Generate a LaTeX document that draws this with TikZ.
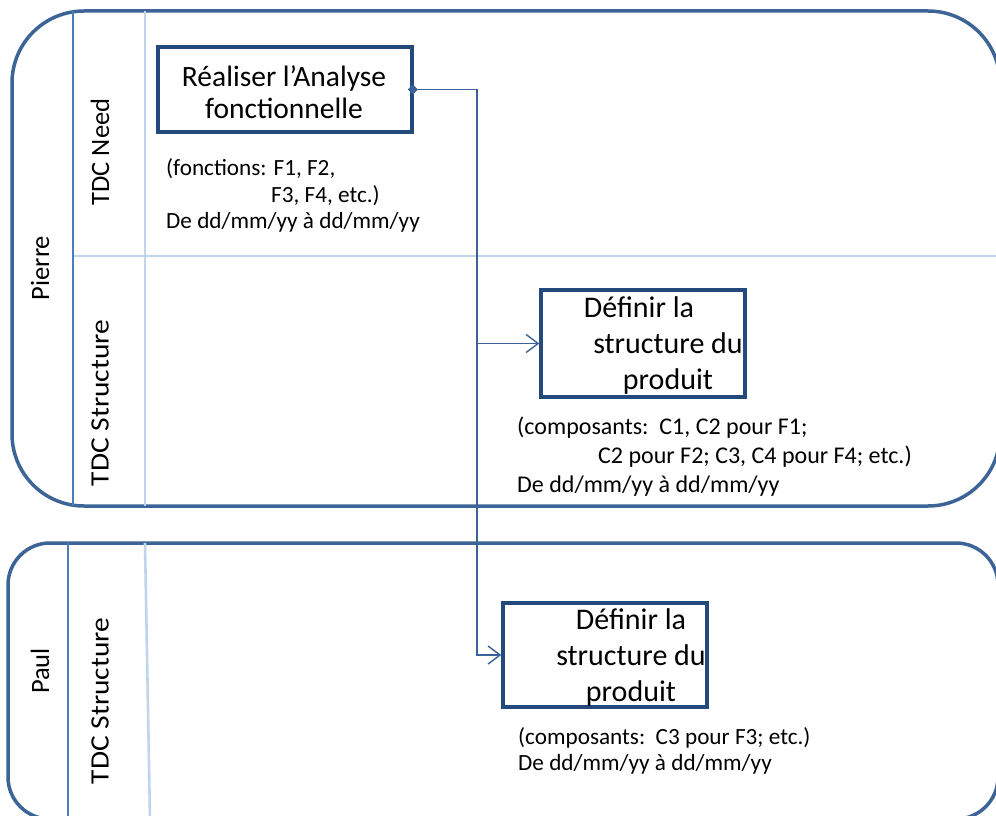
\documentclass[tikz,border=0pt]{standalone}
\usepackage{fontspec}
\setmainfont{Carlito}
\usetikzlibrary{arrows.meta}
\definecolor{poolc}{HTML}{3C6496}
\definecolor{lanec}{HTML}{4A7EBB}
\definecolor{lightc}{HTML}{C0D4EC}
\definecolor{boxc}{HTML}{24497C}
\definecolor{connc}{HTML}{3A6198}
\tikzset{
  poolline/.style={draw=poolc, line width=3.5pt},
  laneline/.style={draw=lanec, line width=2.6pt},
  lightline/.style={draw=lightc, line width=2.6pt},
  taskbox/.style={draw=boxc, line width=3.5pt, fill=white, inner sep=0pt},
  tasktext/.style={inner sep=0pt, align=center, font=\fontsize{30}{36}\selectfont},
  lanelabel/.style={rotate=90, inner sep=0pt, font=\fontsize{26.5}{30}\selectfont},
  note/.style={anchor=base west, inner sep=0pt, font=\fontsize{23.2}{27}\selectfont},
  bignote/.style={note, font=\fontsize{24}{28}\selectfont},
  conn/.style={draw=connc, line width=1.4pt},
}
\begin{document}
\begin{tikzpicture}[x=1pt,y=-1pt]
\clip (0,0) rectangle (996,816);
\fill[white] (0,0) rectangle (996,816);
% top pool
\draw[poolline, rounded corners=72pt] (12,11) rectangle (1000,506);
\draw[lightline] (145,11) -- (145,506);
\draw[lightline] (73,256) -- (1000,256);
\draw[laneline] (73,11) -- (73,506);
% bottom pool
\draw[poolline, rounded corners=42pt] (8,543) rectangle (998,819);
\draw[lightline] (145,543) -- (150,819);
\draw[laneline] (68,543) -- (68,819);
% labels
\node[lanelabel] (pierre) at (40,268) {Pierre};
\node[lanelabel] (need) at (100,152) {TDC Need};
\node[lanelabel] (struct1) at (100,403) {\scalebox{1.11}[1]{TDC Structure}};
\node[lanelabel] (paul) at (40,671) {Paul};
\node[lanelabel] (struct2) at (100,701) {\scalebox{1.11}[1]{TDC Structure}};
% boxes
\node[taskbox, minimum width=254pt, minimum height=85pt] (box1) at (285,89.5) {};
\node[tasktext, font=\fontsize{29.5}{32}\selectfont] (t1) at (284,92) {Réaliser l’Analyse\\fonctionnelle};
\node[taskbox, minimum width=204pt, minimum height=107pt] (box2) at (643,343.5) {};
\node[tasktext] (t2) at (668,345) {Définir la\hspace*{58pt}\\structure du\\produit};
\node[taskbox, minimum width=204pt, minimum height=104pt] (box3) at (605,655) {};
\node[tasktext] (t3) at (631,657) {Définir la\\structure du\\produit};
% notes
\node[note] (n1a) at (166,175) {(fonctions: F1, F2,};
\node[note] (n1b) at (271,202) {F3, F4, etc.)};
\node[note] (n1c) at (166,228) {De dd/mm/yy à dd/mm/yy};
\node[bignote] (n2a) at (517,434) {(composants:\ \ C1, C2 pour F1;};
\node[bignote] (n2b) at (598,463) {C2 pour F2; C3, C4 pour F4; etc.)};
\node[bignote] (n2c) at (517,492) {De dd/mm/yy à dd/mm/yy};
\node[note] (n3a) at (518,744) {(composants:\ \ C3 pour F3; etc.)};
\node[note] (n3b) at (518,770) {De dd/mm/yy à dd/mm/yy};
% connectors
\coordinate (j) at (477,89.5);
\draw[conn, shorten <=-6pt, {Diamond[length=10pt,width=10pt]}-{Straight Barb[length=12pt,width=18pt]}] (box1.east) -- (j) |- (box2.west);
\draw[conn, -{Straight Barb[length=12pt,width=18pt]}] (j) |- (box3.west);
\end{tikzpicture}
\end{document}
